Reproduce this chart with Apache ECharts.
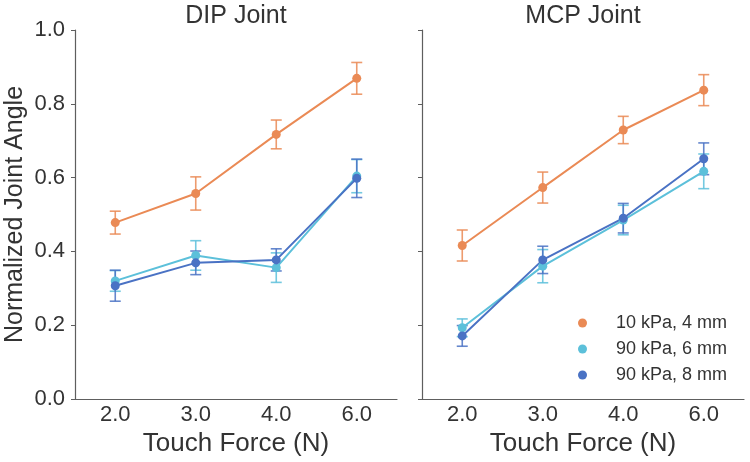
<!DOCTYPE html>
<html><head><meta charset="utf-8">
<script src="https://cdn.jsdelivr.net/npm/echarts@6/dist/echarts.min.js"></script>
<style>html,body{margin:0;padding:0;background:#fff}#c{width:750px;height:462px}</style>
</head><body><div id="c"></div>
<script>
const categories = ['2.0', '3.0', '4.0', '6.0'];
const seriesNames = ['10 kPa, 4 mm', '90 kPa, 6 mm', '90 kPa, 8 mm'];
const yTicks = [0, 0.2, 0.4, 0.6, 0.8, 1.0];
const panelTitles = ['DIP Joint', 'MCP Joint'];

// DIP joint
const dipMean10kPa4mm = [0.478, 0.557, 0.717, 0.869];
const dipErr10kPa4mm  = [0.031, 0.045, 0.039, 0.043];
const dipMean90kPa6mm = [0.320, 0.389, 0.356, 0.604];
const dipErr90kPa6mm  = [0.028, 0.040, 0.040, 0.045];
const dipMean90kPa8mm = [0.307, 0.369, 0.377, 0.598];
const dipErr90kPa8mm  = [0.042, 0.032, 0.030, 0.052];

// MCP joint
const mcpMean10kPa4mm = [0.416, 0.573, 0.729, 0.837];
const mcpErr10kPa4mm  = [0.042, 0.042, 0.037, 0.042];
const mcpMean90kPa6mm = [0.193, 0.360, 0.485, 0.617];
const mcpErr90kPa6mm  = [0.024, 0.045, 0.040, 0.047];
const mcpMean90kPa8mm = [0.171, 0.377, 0.490, 0.651];
const mcpErr90kPa8mm  = [0.028, 0.037, 0.040, 0.043];

const colors = ['#EA8A55', '#5CC0DA', '#4A72C4'];
const FONT = 'Liberation Sans, Arial, sans-serif';
const TXT = '#333333';
const AX = '#5e5e5e';

const panels = [
  {means: [dipMean10kPa4mm, dipMean90kPa6mm, dipMean90kPa8mm], errs: [dipErr10kPa4mm, dipErr90kPa6mm, dipErr90kPa8mm]},
  {means: [mcpMean10kPa4mm, mcpMean90kPa6mm, mcpMean90kPa8mm], errs: [mcpErr10kPa4mm, mcpErr90kPa6mm, mcpErr90kPa8mm]}
];

const grids = [
  {left: 75, top: 30, width: 322, height: 369},
  {left: 422, top: 30, width: 322, height: 369}
];

const xAxes = grids.map((g, i) => ({
  type: 'category', gridIndex: i, data: categories, boundaryGap: true,
  name: 'Touch Force (N)', nameLocation: 'middle', nameGap: 30,
  nameTextStyle: {fontFamily: FONT, fontSize: 26, color: TXT},
  axisLine: {lineStyle: {color: AX, width: 1.2}},
  axisTick: {alignWithLabel: true, length: 4, lineStyle: {color: AX}},
  axisLabel: {fontFamily: FONT, fontSize: 22, color: TXT, margin: 5},
  splitLine: {show: false}
}));

const yAxes = grids.map((g, i) => ({
  type: 'value', gridIndex: i, min: 0, max: 1, interval: 0.2,
  name: i === 0 ? 'Normalized Joint Angle' : '', nameLocation: 'middle', nameGap: 47,
  nameTextStyle: {fontFamily: FONT, fontSize: 25, color: TXT},
  axisLine: {show: true, lineStyle: {color: AX, width: 1.2}},
  axisTick: {show: true, length: 4, lineStyle: {color: AX}},
  axisLabel: {show: i === 0, fontFamily: FONT, fontSize: 22, color: TXT, margin: 10,
    formatter: v => yTicks.includes(Math.round(v * 10) / 10) ? v.toFixed(1) : ''},
  splitLine: {show: false}
}));

const series = [];
panels.forEach((p, pi) => {
  p.means.forEach((m, si) => {
    const errData = m.map((v, k) => [k, v - p.errs[si][k], v + p.errs[si][k]]);
    series.push({
      type: 'custom', xAxisIndex: pi, yAxisIndex: pi, silent: true, z: 2,
      data: errData,
      encode: {x: 0, y: [1, 2]},
      renderItem: (params, api) => {
        const lo = api.coord([api.value(0), api.value(1)]);
        const hi = api.coord([api.value(0), api.value(2)]);
        const w = 5.5;
        const style = {stroke: colors[si], lineWidth: 1.6, opacity: 0.85};
        return {type: 'group', children: [
          {type: 'line', shape: {x1: lo[0], y1: lo[1], x2: hi[0], y2: hi[1]}, style},
          {type: 'line', shape: {x1: lo[0] - w, y1: lo[1], x2: lo[0] + w, y2: lo[1]}, style},
          {type: 'line', shape: {x1: hi[0] - w, y1: hi[1], x2: hi[0] + w, y2: hi[1]}, style}
        ]};
      }
    });
    series.push({
      name: seriesNames[si], type: 'line', xAxisIndex: pi, yAxisIndex: pi, z: 3,
      data: m, symbol: 'circle', symbolSize: 9, showSymbol: true,
      lineStyle: {color: colors[si], width: 2},
      itemStyle: {color: colors[si]},
      emphasis: {disabled: true}
    });
  });
});

const chart = echarts.init(document.getElementById('c'), null, {renderer: 'canvas'});
chart.setOption({
  animation: false,
  color: colors,
  graphic: panelTitles.map((t, i) => ({
    type: 'text', x: grids[i].left + grids[i].width / 2, y: 16,
    style: {text: t, fontFamily: FONT, fontSize: 25, fill: TXT, align: 'center', verticalAlign: 'middle'}
  })),
  legend: {
    data: seriesNames.map(n => ({name: n, icon: 'circle'})),
    orient: 'vertical', left: 573, top: 309, itemWidth: 9, itemHeight: 9, itemGap: 8,
    textStyle: {fontFamily: FONT, fontSize: 18, color: TXT, padding: [0, 0, 0, 24]}
  },
  grid: grids,
  xAxis: xAxes,
  yAxis: yAxes,
  series
});
</script></body></html>
